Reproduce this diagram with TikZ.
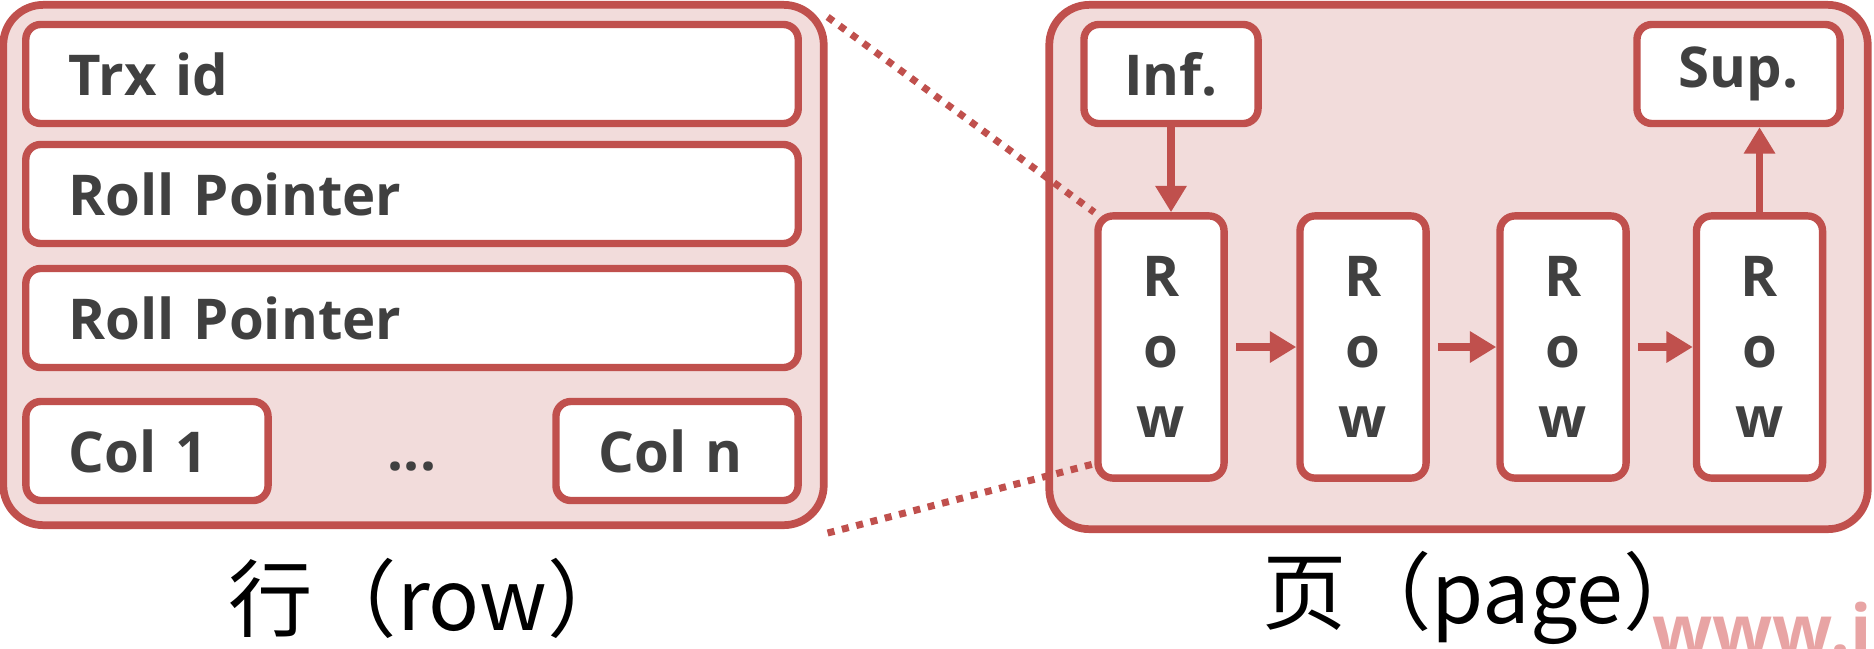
\documentclass[tikz,border=0pt]{standalone}
\usepackage{fontspec}
\setmainfont{Open Sans}
\newfontfamily\cjkfont{Noto Sans CJK SC}
\usepackage{xcolor}
\usepackage{tikz}
\usetikzlibrary{arrows.meta}
\definecolor{boxred}{RGB}{192,80,77}
\definecolor{boxpink}{RGB}{242,220,219}
\definecolor{txtgray}{RGB}{64,64,64}
\definecolor{markpink}{RGB}{232,164,164}
\tikzset{
outerbox/.style={draw=boxred,fill=boxpink,line width=2.2pt,rounded corners=0.4cm},
field/.style={draw=boxred,fill=white,line width=2.1pt,rounded corners=0.15cm,text=txtgray,font=\fontsize{16}{20}\selectfont\bfseries,minimum height=0.99cm,inner xsep=0.43cm,align=left},
rowrec/.style={field,align=center,inner xsep=0pt,minimum width=1.26cm,minimum height=2.62cm},
link/.style={draw=boxred,line width=2.1pt,-{Triangle[length=7.5pt,width=8.5pt]}},
zoomline/.style={draw=boxred,line width=2pt,dash pattern=on 2pt off 2.2pt}
}
\begin{document}
\begin{tikzpicture}[x=0.01cm,y=-0.01cm]
\clip(0,0)rectangle(1874,648);
\node[outerbox,minimum width=8.2cm,minimum height=5.2cm](rowbox)at(413.5,265){};
\node[field,text width=6.86cm](trx)at(412,74){Trx id};
\node[field,text width=6.86cm](roll1)at(412,194){Roll Pointer};
\node[field,text width=6.86cm](roll2)at(412,318){Roll Pointer};
\node[field,text width=1.56cm](col1)at(147,451){Col 1};
\node[field,text width=1.56cm](coln)at(677,451){Col n};
\node[text=txtgray,font=\fontsize{16}{20}\selectfont\bfseries,anchor=base](dots)at(412,470){...};
\node[outerbox,minimum width=8.18cm,minimum height=5.24cm](pagebox)at(1458.5,267){};
\node[field,inner xsep=0pt,minimum width=1.74cm](inf)at(1171,74){Inf.};
\node[field,inner xsep=0pt,minimum width=2.03cm](sup)at(1738.5,74){Sup.};
\node[rowrec](r1)at(1161,347){R\\o\\w};
\node[rowrec](r2)at(1363,347){R\\o\\w};
\node[rowrec](r3)at(1563,347){R\\o\\w};
\node[rowrec](r4)at(1759.5,347){R\\o\\w};
\draw[link](inf.south)--(inf.south|-r1.north);
\draw[link,shorten <=0.08cm](r1)--(r2);
\draw[link,shorten <=0.08cm](r2)--(r3);
\draw[link,shorten <=0.08cm](r3)--(r4);
\draw[link](r4.north)--(r4.north|-sup.south);
\draw[zoomline]([yshift=-0.16cm]rowbox.north east)--(r1.north west);
\draw[zoomline]([yshift=-0.04cm]rowbox.south east)--([yshift=0.18cm]r1.south west);
\node[font=\cjkfont\fontsize{24}{28}\selectfont](rowcap)at(430,598){行（row）};
\node[font=\cjkfont\fontsize{24}{28}\selectfont](pagecap)at(1485,598){页（page）};
\node[text=markpink,font=\fontsize{20}{24}\selectfont\bfseries,anchor=base west](mark)at(1640,655){www.i};
\end{tikzpicture}
\end{document}
